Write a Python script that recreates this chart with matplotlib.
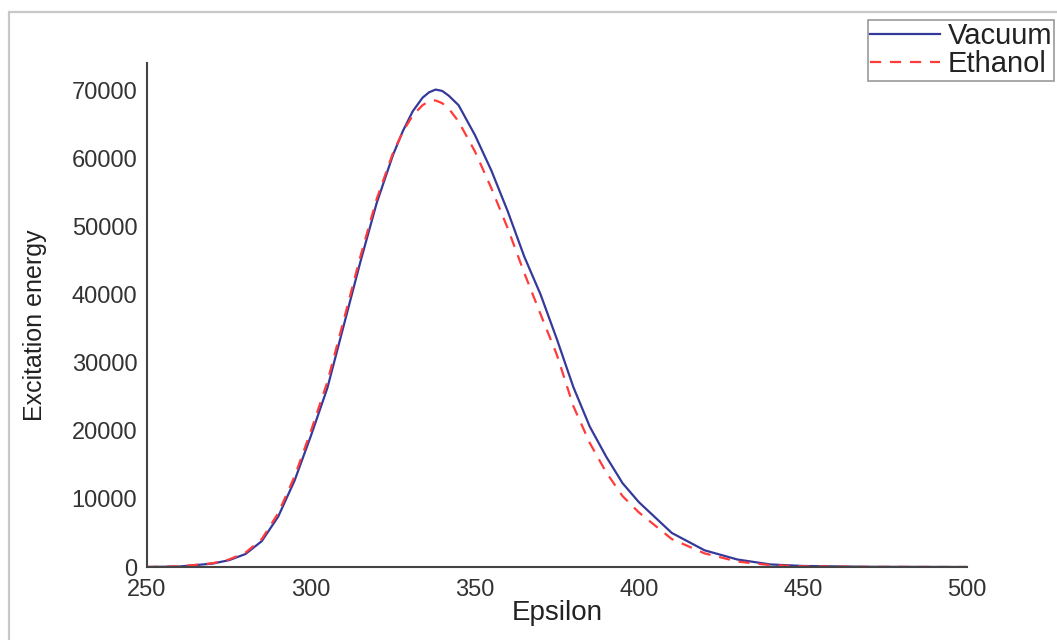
import matplotlib.pyplot as plt
from matplotlib.patches import Rectangle

plt.rcParams['font.family'] = ['Liberation Sans', 'DejaVu Sans']

# valores
epsilon = [250, 260, 270, 275, 280, 285, 290, 295, 300, 305, 310, 315, 320,
           325, 328, 331, 334, 336, 338, 340, 342, 345, 350, 355, 360, 365,
           370, 375, 380, 385, 390, 395, 400, 410, 420, 430, 440, 450, 470,
           500]
vacuum = [0, 80, 500, 1000, 1900, 3800, 7400, 12700, 19300, 26300, 35500,
          44700, 53400, 60500, 64000, 66900, 68900, 69700, 70100, 69900,
          69200, 67800, 63400, 58200, 52200, 45600, 40000, 33400, 26400,
          20600, 16200, 12300, 9500, 5000, 2450, 1100, 380, 150, 30, 0]
ethanol = [0, 90, 550, 1100, 2100, 4100, 7900, 13300, 20000, 27200, 36300,
           45500, 54000, 60800, 63900, 66300, 67800, 68400, 68500, 68100,
           67300, 65400, 61000, 55600, 49700, 43200, 37100, 31100, 23600,
           18200, 13900, 10400, 8000, 4100, 2000, 800, 280, 100, 20, 0]

fig = plt.figure(figsize=(10.57, 6.4), dpi=100)
ax = fig.add_axes([147/1057, 1 - 567/640, 820/1057, 504/640])

# moldura cinza da figura
fig.patches.append(Rectangle((9/1057, -0.1), 1.1, 1.1 - 12/640,
                             transform=fig.transFigure, fill=False,
                             edgecolor='#c8c8c8', linewidth=1.6))

ax.plot(epsilon, vacuum, color='#35399a', lw=1.6, label='Vacuum')
ax.plot(epsilon, ethanol, color='#ff3b3b', lw=1.6, ls=(0, (5, 4)), label='Ethanol')

ax.set_xlim(250, 500)
ax.set_ylim(0, 74000)
ax.set_xticks([250, 300, 350, 400, 450, 500])
ax.set_yticks(range(0, 70001, 10000))
ax.tick_params(length=0, labelsize=17, colors='#333333')
ax.tick_params(axis='x', pad=9)
ax.tick_params(axis='y', pad=7)
for s in ['top', 'right']:
    ax.spines[s].set_visible(False)
for s in ['left', 'bottom']:
    ax.spines[s].set_color('#444444')
    ax.spines[s].set_linewidth(1.5)

ax.set_xlabel('Epsilon', fontsize=20, color='#222222', labelpad=-1)
ax.set_ylabel('Excitation energy', fontsize=18, color='#222222')
ax.yaxis.set_label_coords(-0.122, 0.48)

leg = fig.legend(loc='upper left', bbox_to_anchor=(868/1057, 1 - 20/640),
                 fontsize=21, handlelength=2.4, handletextpad=0.25,
                 labelspacing=0.0, borderpad=0.08, borderaxespad=0,
                 fancybox=False, framealpha=1)
leg.get_frame().set_edgecolor('#999999')
leg.get_frame().set_linewidth(1.2)
for t in leg.get_texts():
    t.set_color('#222222')

fig.savefig('out.png', dpi=100)
